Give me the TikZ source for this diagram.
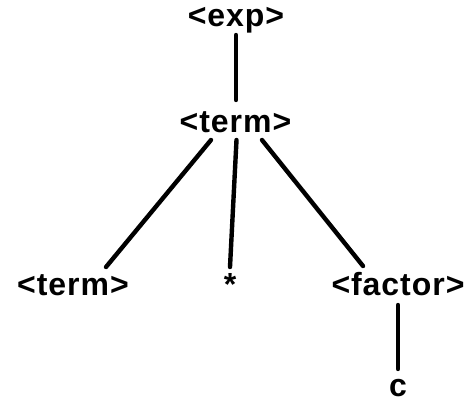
\documentclass[tikz,border=0pt]{standalone}
\usepackage{fontspec}
\setmainfont{Liberation Sans}[LetterSpace=3]
\begin{document}
\begin{tikzpicture}[x=1pt,y=1pt,
  lbl/.style={anchor=base,inner sep=0pt,font=\fontsize{32}{32}\selectfont\bfseries},
  edge/.style={line width=4.4pt,line cap=round}]
\useasboundingbox (0,0) rectangle (468,-404);
\node[lbl] (exp) at (236,-27) {<exp>};
\node[lbl] (term) at (235.5,-132) {<term>};
\node[lbl] (lt) at (73,-295) {<term>};
\node[lbl] (star) at (230,-295) {*};
\node[lbl] (factor) at (398,-295) {<factor>};
\node[lbl] (c) at (398,-396) {c};
\draw[edge] ([shift={(0,-8)}]exp.base) -- ([shift={(0.5,32)}]term.base);
\draw[edge] ([shift={(-24.5,-8)}]term.base) -- ([shift={(33,28)}]lt.base);
\draw[edge] ([shift={(1,-8)}]term.base) -- ([shift={(0,28)}]star.base);
\draw[edge] ([shift={(0,-10)}]factor.base) -- ([shift={(0,27)}]c.base);
\draw[edge] ([shift={(26.5,-8)}]term.base) -- ([shift={(-35,29)}]factor.base);
\end{tikzpicture}
\end{document}
